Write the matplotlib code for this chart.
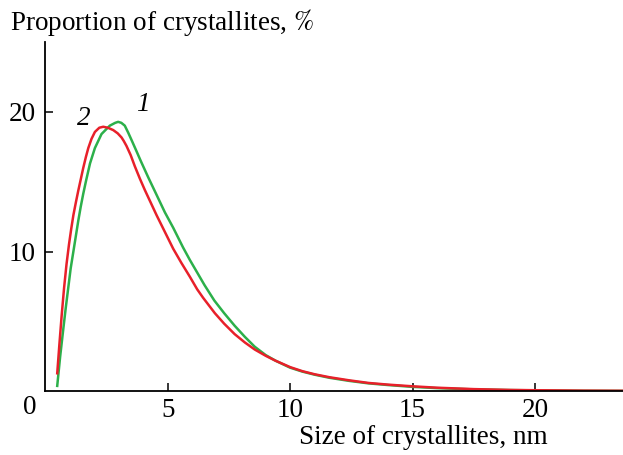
import matplotlib
matplotlib.use("Agg")
import matplotlib.pyplot as plt

# Crystallite size distributions (size in nm, proportion in %)
size_1 = [0.48, 0.6, 0.73, 0.83, 0.93, 1.03, 1.14, 1.24, 1.34, 1.44, 1.54, 1.65,
          1.82, 2.02, 2.29, 2.63, 2.85, 2.97, 3.1, 3.24, 3.38, 3.52, 3.7, 3.9,
          4.2, 4.5, 4.88, 5.22, 5.62, 5.9, 6.2, 6.5, 6.9, 7.3, 7.73, 8.15, 8.55,
          9.0, 9.4, 10, 10.5, 11, 11.6, 12.4, 13.2, 14, 15, 16, 17.5, 19, 20,
          22, 23.6]
prop_1 = [0.4, 2.5, 4.5, 6.0, 7.4, 8.8, 10.0, 11.1, 12.2, 13.2, 14.1, 15.0,
          16.3, 17.4, 18.4, 19.0, 19.2, 19.27, 19.2, 19.0, 18.5, 17.96, 17.25, 16.45,
          15.3, 14.2, 12.8, 11.7, 10.3, 9.4, 8.5, 7.6, 6.5, 5.6, 4.7, 3.9, 3.2,
          2.6, 2.2, 1.7, 1.42, 1.2, 0.98, 0.76, 0.58, 0.46, 0.33, 0.24, 0.15, 0.1, 0.08,
          0.05, 0.04]

size_2 = [0.48, 0.57, 0.66, 0.76, 0.86, 0.96, 1.05, 1.14, 1.24, 1.34, 1.44, 1.54,
          1.65, 1.75, 1.88, 2.02, 2.2, 2.36, 2.55, 2.77, 2.95, 3.11, 3.2, 3.31,
          3.48, 3.65, 3.86, 4.06, 4.3, 4.54, 4.88, 5.22, 5.55, 5.9, 6.2, 6.44,
          6.92, 7.3, 7.73, 8.15, 8.55, 9.0, 9.4, 10, 10.5, 11, 11.6, 12.4, 13.2,
          14, 15, 16, 17.5, 19, 20, 22, 23.6]
prop_2 = [1.3, 3.4, 5.4, 7.4, 9.1, 10.5, 11.6, 12.6, 13.5, 14.35, 15.15, 15.95,
          16.75, 17.4, 18.05, 18.55, 18.85, 18.92, 18.85, 18.68, 18.45, 18.15, 17.9, 17.55,
          16.9, 16.1, 15.2, 14.4, 13.5, 12.6, 11.4, 10.2, 9.2, 8.2, 7.3, 6.7,
          5.6, 4.85, 4.1, 3.5, 3.0, 2.55, 2.2, 1.74, 1.45, 1.23, 1.02, 0.8, 0.61,
          0.49, 0.37, 0.27, 0.17, 0.11, 0.09, 0.06, 0.05]

x_ticks = [5, 10, 15, 20]
y_ticks = [10, 20]

plt.rcParams["font.family"] = ["Liberation Serif", "DejaVu Serif"]
plt.rcParams["mathtext.fontset"] = "stix"

FS = 19.5

fig = plt.figure(figsize=(6.23, 4.55), dpi=100)
ax = fig.add_axes([0.073, 0.1396, 0.927, 0.7688])

ax.plot(size_1, prop_1, color="#2cb04a", lw=1.8, solid_joinstyle="round")
ax.plot(size_2, prop_2, color="#e8202a", lw=1.8, solid_joinstyle="round")

ax.set_xlim(0, 23.6)
ax.set_ylim(0, 25)
ax.set_xticks(x_ticks)
ax.set_yticks(y_ticks)
ax.tick_params(direction="in", length=6, width=1.1, labelsize=FS, color="black")
ax.tick_params(axis="x", pad=5)
ax.tick_params(axis="y", pad=7)

for side in ("top", "right"):
    ax.spines[side].set_visible(False)
for side in ("left", "bottom"):
    ax.spines[side].set_linewidth(1.3)

# Shared origin label
ax.text(-0.63, -0.047, "0", transform=ax.get_xaxis_transform(),
        ha="center", va="center", fontsize=FS, clip_on=False)

# Axis titles
fig.text(10 / 623, 1 - 22 / 455, "Proportion of crystallites, $\\mathit{\\%}$",
         ha="left", va="center", fontsize=FS)
fig.text(548 / 623, 1 - 437 / 455, "Size of crystallites, nm",
         ha="right", va="center", fontsize=FS)

# Curve numbers
ax.text(3.98, 20.5, "1", fontsize=FS, style="italic", ha="center", va="center")
ax.text(1.57, 19.5, "2", fontsize=FS, style="italic", ha="center", va="center")

fig.savefig("out.png", dpi=100)
